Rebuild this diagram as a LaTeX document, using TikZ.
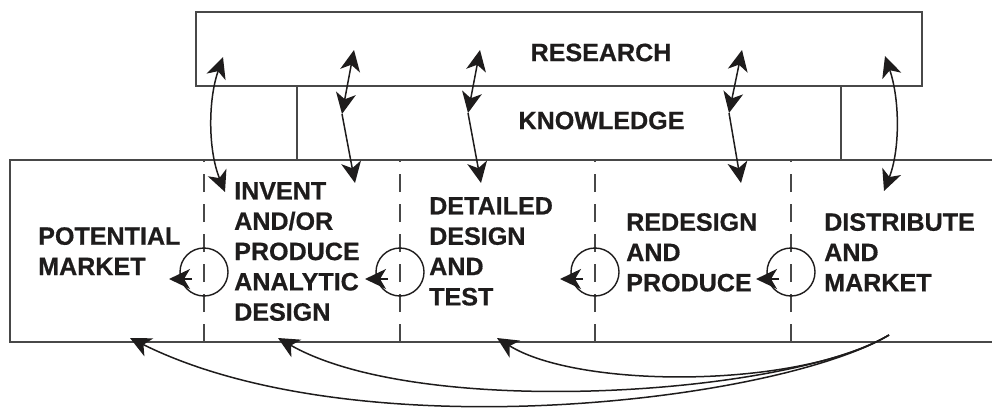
\documentclass[tikz,border=0pt]{standalone}
\usepackage{fontspec}
\setmainfont{Liberation Sans}[BoldFeatures={FakeBold=0.6}]
\usetikzlibrary{arrows.meta}
\definecolor{ink}{RGB}{30,28,28}
\definecolor{rulegray}{RGB}{72,72,72}
\tikzset{headtip/.tip={Stealth[length=21pt,width=20pt,inset=6pt]}}
\begin{document}
\begin{tikzpicture}[x=1pt,y=-1pt,
  frame/.style={draw=rulegray,line width=1.7pt},
  divider/.style={draw=rulegray,line width=1.4pt,dash pattern=on 18pt off 12pt},
  stage/.style={inner sep=0pt,text=ink,font=\bfseries\fontsize{25.1}{30.3}\selectfont,align=left,anchor=north west},
  heading/.style={inner sep=0pt,text=ink,font=\bfseries\fontsize{25.1}{30.3}\selectfont},
  link/.style={draw=ink,line width=1.5pt},
  oneway/.style={link,-headtip},
  twoway/.style={link,headtip-headtip},
  loopring/.style={circle,draw=ink,line width=1.4pt,minimum size=48pt,inner sep=0pt},
]
\useasboundingbox (0,0) rectangle (992,410);

% research and knowledge bands
\draw[frame] (196,12) rectangle (922,86);
\draw[frame] (297,86) -- (297,160);
\draw[frame] (841,86) -- (841,160);
\node[heading] (research) at (601,52.5) {RESEARCH};
\node[heading] (knowledge) at (601.5,120.5) {KNOWLEDGE};

% process strip, open on the right
\draw[frame] (994,160) -- (10,160) -- (10,342) -- (994,342);
\foreach \x in {204,400,595,791}
  \draw[divider] (\x,342) -- (\x,160);

% stage labels
\node[stage] (market)  at (38,227)  {POTENTIAL\\MARKET};
\node[stage] (invent)  at (234,182) {INVENT\\AND/OR\\PRODUCE\\ANALYTIC\\DESIGN};
\node[stage] (detail)  at (429,197) {DETAILED\\DESIGN\\AND\\TEST};
\node[stage] (redesign) at (626,213) {REDESIGN\\AND\\PRODUCE};
\node[stage] (distrib) at (824,213) {DISTRIBUTE\\AND\\MARKET};

% feedback loops at each stage boundary
\foreach \n/\x in {lpA/204,lpB/400,lpC/595,lpD/791}{
  \node[loopring] (\n) at (\x,272) {};
  \draw[oneway] ([shift={(-12,7)}]\n.center) -- ([shift={(-35,7)}]\n.center);
}

% exchanges between research, knowledge and the stages
\coordinate (r1) at (223,57);  \coordinate (s1) at (225,192);
\coordinate (r2) at (354,50);  \coordinate (k2) at (342,114); \coordinate (s2) at (355,183);
\coordinate (r3) at (480,50);  \coordinate (k3) at (468,113); \coordinate (s3) at (481,183);
\coordinate (r4) at (742,50);  \coordinate (k4) at (729,113); \coordinate (s4) at (741,183);
\coordinate (r5) at (885,56);  \coordinate (s5) at (884,191);

\draw[twoway] (r1) .. controls (208,100) and (208,150) .. (s1);
\draw[twoway] (r2) -- (k2);
\draw[oneway] (k2) -- (s2);
\draw[twoway] (r3) -- (k3);
\draw[oneway] (k3) -- (s3);
\draw[twoway] (r4) -- (k4);
\draw[oneway] (k4) -- (s4);
\draw[twoway] (r5) .. controls (900,100) and (900,150) .. (s5);

% returns from the market back to earlier stages
\coordinate (src) at (889,335);
\coordinate (t1) at (130,338);
\coordinate (t2) at (278,338);
\coordinate (t3) at (497,338);
\draw[oneway] (src) .. controls (779,401) and (360,452) .. (t1);
\draw[oneway] (src) .. controls (789,395) and (422,420) .. (t2);
\draw[oneway] (src) .. controls (799,389) and (579,389) .. (t3);
\end{tikzpicture}
\end{document}
